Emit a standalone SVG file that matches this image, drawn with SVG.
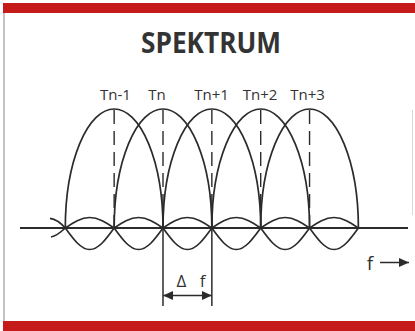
<svg xmlns="http://www.w3.org/2000/svg" xmlns:xlink="http://www.w3.org/1999/xlink" width="415" height="331" viewBox="0 0 415 331">
<style>
.c{fill:none;stroke:#2b2b2b;stroke-width:1.7}
.ax{fill:none;stroke:#2b2b2b;stroke-width:2}
.d{fill:none;stroke:#2b2b2b;stroke-width:1.4;stroke-dasharray:14 7}
.t{font-family:"Open Sans","Noto Sans",sans-serif;fill:#333}
.ar{fill:none;stroke:#2b2b2b;stroke-width:1.5}
</style>
<defs>
<marker id="ah" viewBox="0 0 10 9" refX="10" refY="4.5" markerWidth="10" markerHeight="9" markerUnits="userSpaceOnUse" orient="auto-start-reverse">
<path d="M0,0 L10,4.5 L0,9 Z" fill="#2b2b2b"/>
</marker>
<path id="lobe" d="M0,0 A48.85,119 0 0 1 97.7,0"/>
<path id="sl" d="M0,0 C8.165,-5.51 15.62,-10.5 24.425,-10.5 C33.23,-10.5 40.685,-5.51 48.85,0 M0,0 C8.165,11.29 15.62,21.5 24.425,21.5 C33.23,21.5 40.685,11.29 48.85,0"/>
</defs>
<rect x="0" y="0" width="415" height="331" fill="#fff"/>
<rect x="3" y="3" width="412" height="10" fill="#c51b1b"/>
<rect x="3" y="321" width="412" height="10" fill="#c51b1b"/>
<line x1="4" y1="13" x2="4" y2="321" stroke="#b0b0b0" stroke-width="1.5"/>
<line x1="412.5" y1="110" x2="412.5" y2="215" stroke="#d8d8d8" stroke-width="1"/>
<g id="title"><text class="t" x="211" y="53" font-size="28" font-weight="bold" text-anchor="middle" textLength="140" lengthAdjust="spacingAndGlyphs">SPEKTRUM</text></g>
<g id="labels" font-size="15">
<text class="t" x="115.5" y="100" text-anchor="middle">Tn-1</text>
<text class="t" x="157" y="100" text-anchor="middle">Tn</text>
<text class="t" x="211.5" y="100" text-anchor="middle">Tn+1</text>
<text class="t" x="260" y="100" text-anchor="middle">Tn+2</text>
<text class="t" x="307.5" y="100" text-anchor="middle">Tn+3</text>
</g>
<g id="axis"><line class="ax" x1="20" y1="228" x2="408" y2="228"/></g>
<g id="lobes" class="c">
<use href="#lobe" xlink:href="#lobe" x="65.3" y="228"/>
<use href="#lobe" xlink:href="#lobe" x="114.15" y="228"/>
<use href="#lobe" xlink:href="#lobe" x="163" y="228"/>
<use href="#lobe" xlink:href="#lobe" x="211.85" y="228"/>
<use href="#lobe" xlink:href="#lobe" x="260.7" y="228"/>
</g>
<g id="sidelobes" class="c">
<path d="M65.3,228 C60,222 55,219 50,218.3 M65.3,228 C60,233 56,236 51,237"/>
<use href="#sl" xlink:href="#sl" x="65.3" y="228"/>
<use href="#sl" xlink:href="#sl" x="114.15" y="228"/>
<use href="#sl" xlink:href="#sl" x="163" y="228"/>
<use href="#sl" xlink:href="#sl" x="211.85" y="228"/>
<use href="#sl" xlink:href="#sl" x="260.7" y="228"/>
<use href="#sl" xlink:href="#sl" x="309.55" y="228"/>
</g>
<g id="centers" class="d">
<line x1="114.15" y1="110" x2="114.15" y2="228"/>
<line x1="163" y1="110" x2="163" y2="228"/>
<line x1="211.85" y1="110" x2="211.85" y2="228"/>
<line x1="260.7" y1="110" x2="260.7" y2="228"/>
<line x1="309.55" y1="110" x2="309.55" y2="228"/>
</g>
<g id="delta-f">
<line class="ar" x1="163" y1="228" x2="163" y2="306"/>
<line class="ar" x1="211.85" y1="228" x2="211.85" y2="306"/>
<line class="ar" x1="163" y1="295.5" x2="211.85" y2="295.5" marker-start="url(#ah)" marker-end="url(#ah)"/>
<text class="t" x="181.5" y="287" font-size="17" text-anchor="middle">Δ</text>
<text class="t" x="202.5" y="287" font-size="17" text-anchor="middle">f</text>
</g>
<g id="f-axis">
<text class="t" x="370" y="270" font-size="19" text-anchor="middle">f</text>
<line class="ar" x1="380" y1="262.5" x2="409" y2="262.5" stroke-width="1.6" marker-end="url(#ah)"/>
</g>
</svg>
